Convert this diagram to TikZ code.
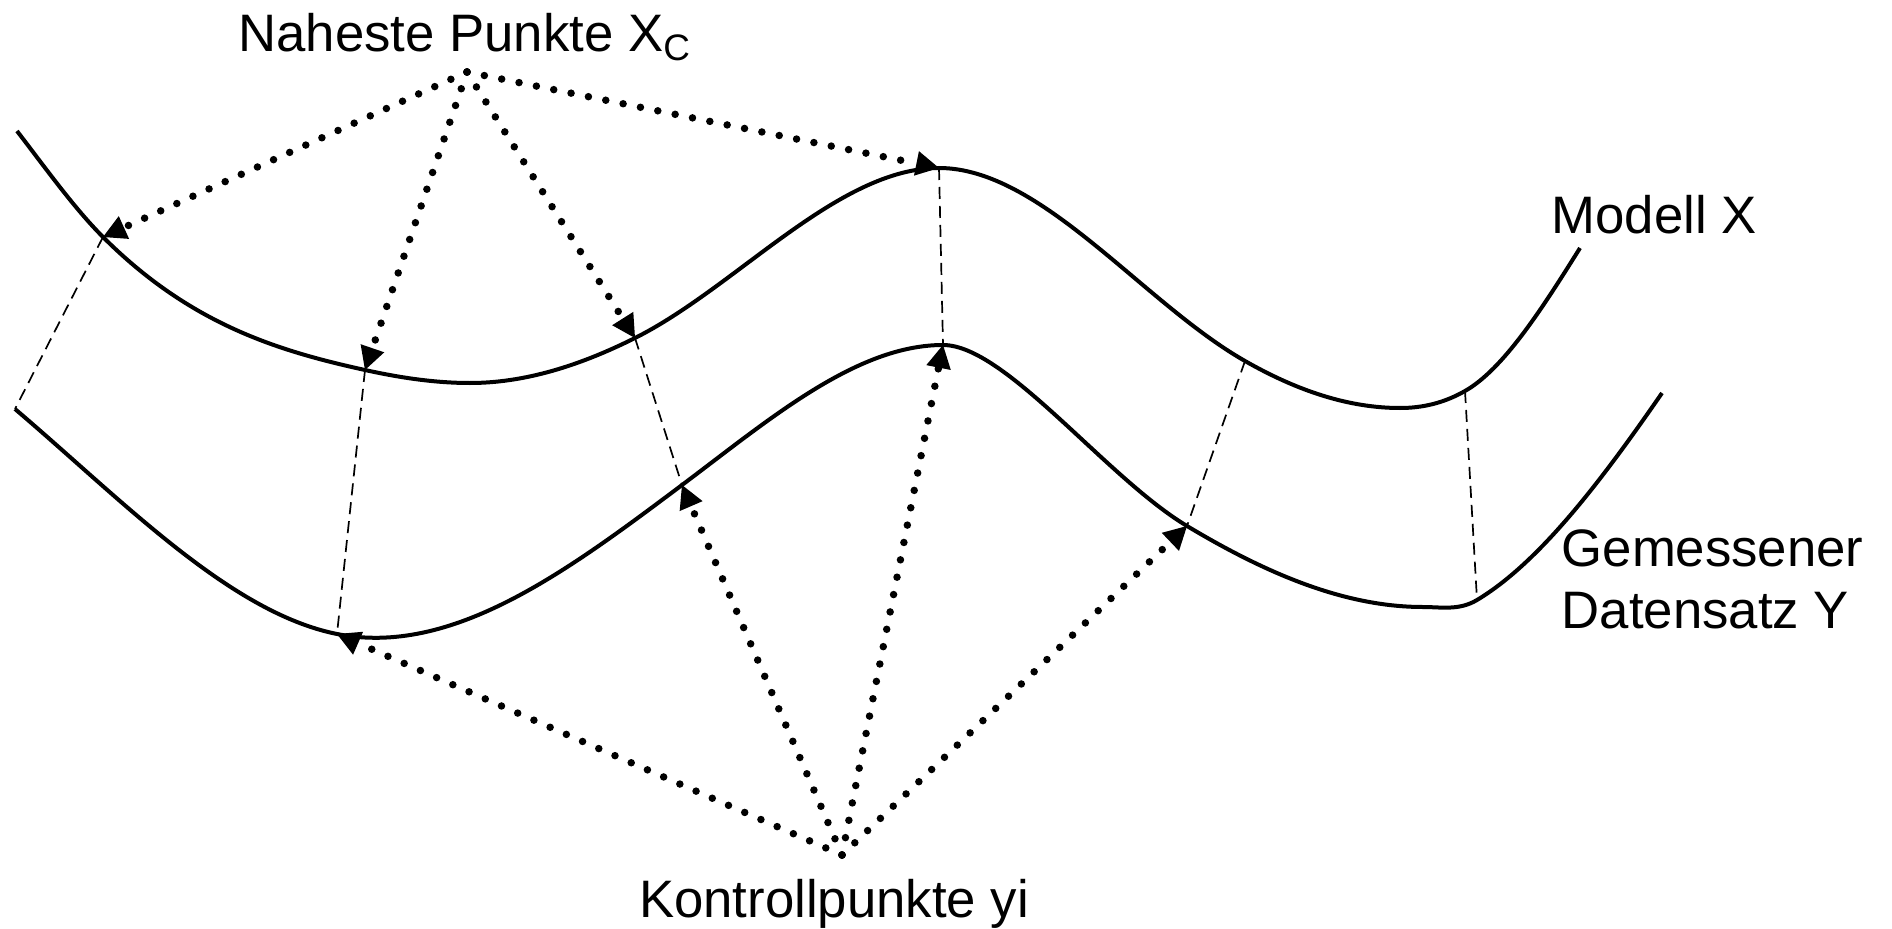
\documentclass[tikz,border=0pt]{standalone}
\usepackage{fontspec}
\setmainfont{Liberation Sans}
\usetikzlibrary{arrows.meta, positioning}
\tikzset{>={Triangle[length=2.3mm,width=2.5mm,line width=0pt]}}

\begin{document}
\begin{tikzpicture}[
    x = 0.1mm, y = -0.1mm,
    kurve/.style = {line width=0.4mm},
    abstand/.style = {line width=0.17mm, dash pattern=on 1.2mm off 0.7mm},
    pfeil/.style = {->, line width=0.75mm, line cap=round,
        dash pattern=on 0pt off 1.77mm},
    lbl/.style = {inner sep=0pt, font=\fontsize{15}{17.6}\selectfont}
  ]
  \useasboundingbox (0,0) rectangle (1892,929);

  % Punkte auf Modell X
  \coordinate (p1) at (103,237);
  \coordinate (p2) at (365,370);
  \coordinate (p3) at (635,338);
  \coordinate (p4) at (939,168);
  \coordinate (p5) at (1245,361);
  \coordinate (p6) at (1465,391);
  % Punkte auf Datensatz Y
  \coordinate (q1) at (15,409);
  \coordinate (q2) at (337,634);
  \coordinate (q3) at (682,485);
  \coordinate (q4) at (943,345);
  \coordinate (q5) at (1187,526);
  \coordinate (q6) at (1477,600);

  \coordinate (nah) at (467,72);
  \coordinate (kon) at (842,855);

  % Modell X
  \draw[kurve] (17,131) .. controls (45.7,168.3) and (74.3,208.3) .. (p1)
    .. controls (190.3,324.3) and (277.7,350.8) .. (p2)
    .. controls (400,377.7) and (435,383) .. (470,383)
    .. controls (525,383) and (580,365.5) .. (p3)
    .. controls (736.3,287.3) and (837.7,168) .. (p4)
    .. controls (1041,168) and (1143,302.9) .. (p5)
    .. controls (1296.7,390.5) and (1348.3,408) .. (1400,408)
    .. controls (1421.7,408) and (1443.3,403.4) .. (p6)
    .. controls (1503.3,369.2) and (1541.7,309.3) .. (1580,248);
  % Datensatz Y
  \draw[kurve] (q1) .. controls (122.3,500.2) and (229.7,612.5) .. (q2)
    .. controls (452,657) and (567,571.3) .. (q3)
    .. controls (769,419.8) and (856,345) .. (q4)
    .. controls (1005,345) and (1105.7,477.2) .. (q5)
    .. controls (1265.7,573.2) and (1344.3,607) .. (1423,607)
    .. controls (1441,607) and (1459,610.8) .. (q6)
    .. controls (1538.7,563) and (1600.3,482.4) .. (1662,393);

  % Abstaende
  \foreach \i in {1,...,6}
    \draw[abstand] (p\i) -- (q\i);

  % Zuordnung
  \foreach \z in {p1,p2,p3,p4}
    \draw[pfeil] (nah) -- (\z);
  \foreach \z in {q2,q3,q4,q5}
    \draw[pfeil] (kon) -- (\z);

  \node[lbl, anchor=base] (nahlbl) at (465,52) {Naheste Punkte X\textsubscript{C}};
  \node[lbl, anchor=base west] (modlbl) at (1551,234) {Modell X};
  \node[lbl, anchor=base west] (gemlbl) at (1561,566) {Gemessener};
  \node[lbl, anchor=base west] (datlbl) at ([yshift=-6.2mm]gemlbl.base west) {Datensatz Y};
  \node[lbl, anchor=base] (konlbl) at (834,917) {Kontrollpunkte yi};
\end{tikzpicture}
\end{document}
